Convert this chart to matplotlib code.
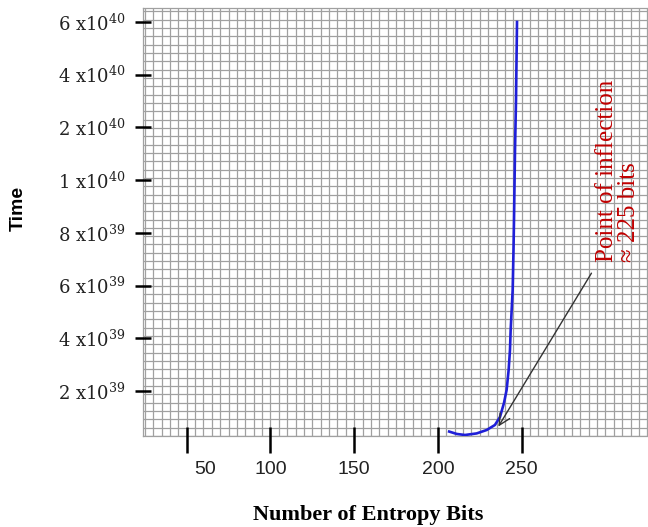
import numpy as np
import matplotlib
matplotlib.use('Agg')
import matplotlib.pyplot as plt
from matplotlib.ticker import MultipleLocator
from matplotlib.transforms import ScaledTranslation

# curve
bits = [206.7, 211.2, 216.1, 223.1, 229.1, 234.0, 237.0, 239.4, 241.0, 242.2,
        243.0, 243.4, 244.0, 244.6, 245.1, 245.4, 246.0, 246.6, 246.9, 247.2]
time = [0.46e39, 0.37e39, 0.33e39, 0.39e39, 0.52e39, 0.71e39, 1.01e39, 1.54e39,
        2.04e39, 2.80e39, 3.56e39, 4.31e39, 5.07e39, 5.83e39, 7.35e39, 8.49e39,
        1.57e40, 3.04e40, 4.56e40, 6.0e40]

xticks = [50, 100, 150, 200, 250]
ytick_vals = [2e39, 4e39, 6e39, 8e39, 1e40, 2e40, 4e40, 6e40]
ytick_labels = ['2 x10$^{39}$', '4 x10$^{39}$', '6 x10$^{39}$', '8 x10$^{39}$',
                '1 x10$^{40}$', '2 x10$^{40}$', '4 x10$^{40}$', '6 x10$^{40}$']

# the y axis is evenly spaced between labels, not linear
scale_vals = [0] + ytick_vals + [8e40]
scale_idx = list(range(len(scale_vals)))

def fwd(v):
    return np.interp(v, scale_vals, scale_idx)

def inv(i):
    return np.interp(i, scale_idx, scale_vals)

plt.rcParams['mathtext.fontset'] = 'dejavuserif'

W, H = 648, 527
fig = plt.figure(figsize=(W/100, H/100), dpi=100)
rect = [143/W, 1-436/H, 505/W, 428/H]

# background grid paper
bg = fig.add_axes(rect, zorder=0)
bg.set_xlim(23.9, 325.4)
bg.set_ylim(0, 51.4)
bg.xaxis.set_major_locator(MultipleLocator(5))
bg.yaxis.set_major_locator(MultipleLocator(1))
bg.grid(True, color='#a0a0a0', lw=0.9)
bg.tick_params(length=0, labelbottom=False, labelleft=False)
for s in bg.spines.values():
    s.set_color('#a0a0a0')
    s.set_linewidth(0.9)

ax = fig.add_axes(rect, zorder=1)
ax.patch.set_visible(False)
for s in ax.spines.values():
    s.set_visible(False)
# ticks start a little inside the grid
ax.spines['bottom'].set_position(('axes', 9/428))

ax.set_yscale('function', functions=(fwd, inv))
ax.plot(bits, time, color='#1f1fd8', lw=1.9)
ax.set_xlim(23.9, 325.4)
ax.set_ylim(0.292e39, 6.53e40)

ax.set_yticks(ytick_vals)
ax.set_yticklabels(ytick_labels, family='DejaVu Serif', fontsize=13, color='#222222')
ax.set_xticks(xticks)
ax.set_xticklabels([str(t) for t in xticks], family='Liberation Sans', fontsize=14, color='#222222')
ax.yaxis.set_minor_locator(plt.NullLocator())
ax.xaxis.set_minor_locator(plt.NullLocator())

ax.tick_params(axis='x', direction='out', length=18.7, width=1.8, pad=5.5)
ax.tick_params(axis='y', direction='inout', length=11.5, width=1.8, pad=7)

# in the original the "50" label sits to the right of its tick
lab = ax.xaxis.get_major_ticks()[0].label1
lab.set_transform(lab.get_transform() + ScaledTranslation(0.18, 0, fig.dpi_scale_trans))

ax.annotate('', xy=(235.2, 0.56e39), xytext=(292.5, 6.56e39),
            arrowprops=dict(arrowstyle='->', color='#333333', lw=1.0, mutation_scale=20))
ax.text(307.5, 6.9e39, 'Point of inflection\n\u2248 225 bits', rotation=90,
        rotation_mode='anchor', ha='left', va='center', color='#c00000',
        fontsize=18, family=['Liberation Serif', 'DejaVu Serif'], linespacing=0.98)

fig.text(368/W, 1-515/H, 'Number of Entropy Bits', ha='center', va='center',
         family='Liberation Serif', fontweight='bold', fontsize=16)
fig.text(18/W, 1-208/H, 'Time', ha='center', va='center', rotation=90,
         family='Liberation Sans', fontweight='bold', fontsize=14)

fig.savefig('out.png', dpi=100)
